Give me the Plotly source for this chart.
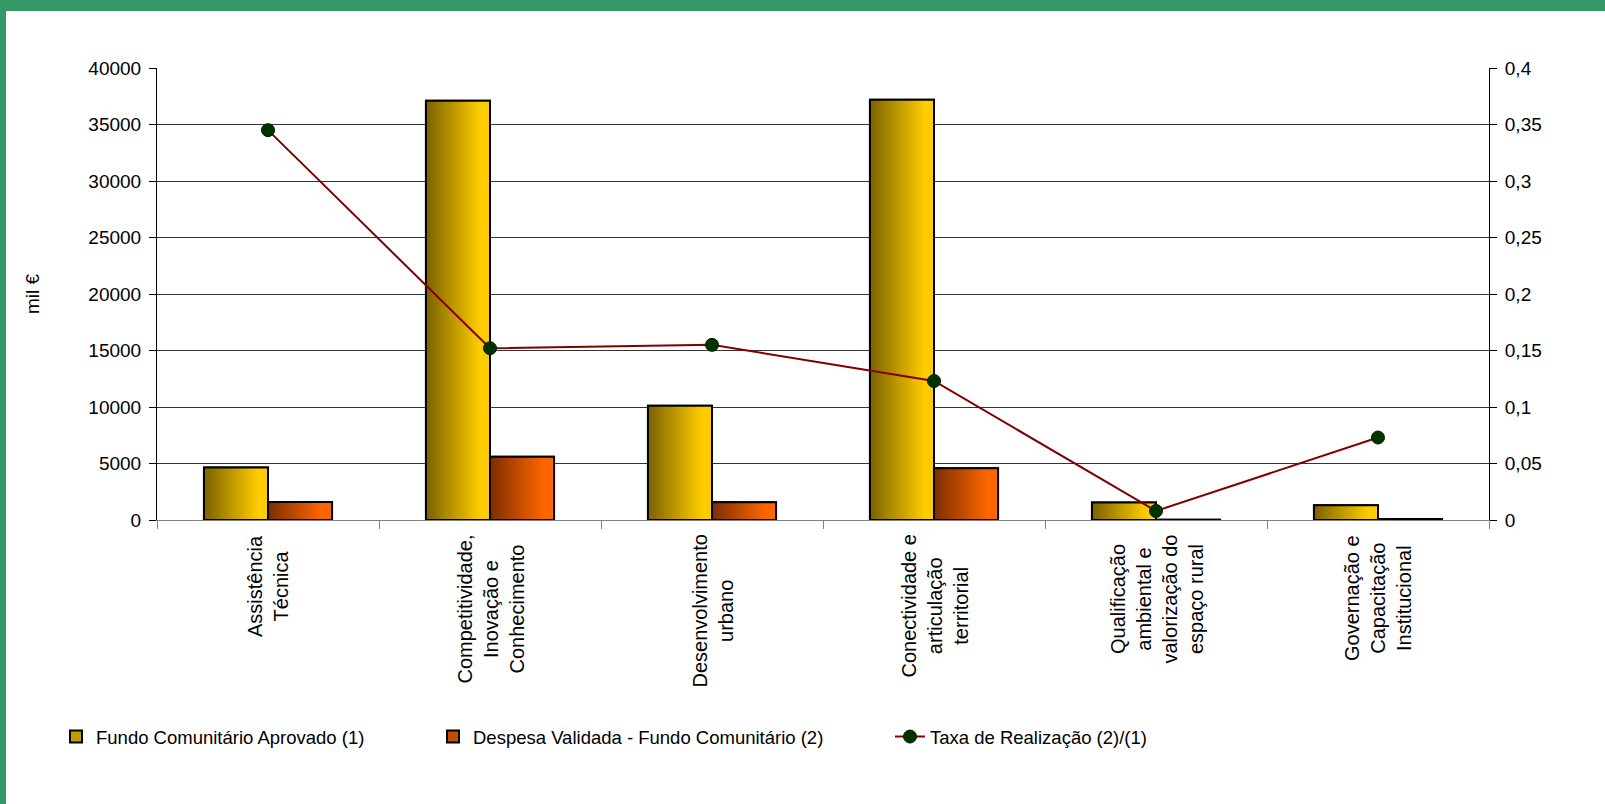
import plotly.graph_objects as go

# ---------------- data ----------------
categories = [
    "Assistência<br>Técnica",
    "Competitividade,<br>Inovação e<br>Conhecimento",
    "Desenvolvimento<br>urbano",
    "Conectividade e<br>articulação<br>territorial",
    "Qualificação<br>ambiental e<br>valorização do<br>espaço rural",
    "Governação e<br>Capacitação<br>Institucional",
]
fundo_aprovado = [4650, 37100, 10100, 37200, 1550, 1300]
despesa_validada = [1600, 5600, 1570, 4580, 12, 95]
taxa_realizacao = [0.345, 0.152, 0.155, 0.123, 0.008, 0.073]

name_fundo = "Fundo Comunitário Aprovado (1)"
name_despesa = "Despesa Validada - Fundo Comunitário (2)"
name_taxa = "Taxa de Realização (2)/(1)"
y_title = "mil €"

# ---------------- style ----------------
FONT = "Liberation Sans, Arial, sans-serif"
W, H = 1605, 804
ML, MR, MT, MB = 157, 116, 68, 284
PW, PH = W - ML - MR, H - MT - MB
BAR_W = 0.2885
N_STEPS = 24

gold_dark, gold_light = (122, 98, 0), (255, 204, 0)
orng_dark, orng_light = (125, 46, 0), (255, 102, 0)


def grad(c0, c1, f, full_at=0.85):
    t = min(f / full_at, 1.0)
    r = [round(a + (b - a) * t) for a, b in zip(c0, c1)]
    return "rgb(%d,%d,%d)" % tuple(r)


fig = go.Figure()


def add_gradient_bars(values, name, offset, c0, c1, legend):
    # bottom layer: legend entry (mid colour + border)
    fig.add_trace(go.Bar(
        x=categories, y=values, name=name, offset=offset, width=BAR_W,
        marker=dict(color=grad(c0, c1, 0.45), line=dict(color="black", width=2)),
        legend=legend, showlegend=True, hoverinfo="skip",
    ))
    # gradient steps (left dark -> right light)
    for k in range(N_STEPS):
        frac_w = (N_STEPS - k) / N_STEPS
        f = (N_STEPS - k - 0.5) / N_STEPS
        fig.add_trace(go.Bar(
            x=categories, y=values, offset=offset, width=BAR_W * frac_w,
            marker=dict(color=grad(c0, c1, f), line=dict(width=0)),
            showlegend=False, hoverinfo="skip", legend=legend,
        ))
    # top outline
    fig.add_trace(go.Bar(
        x=categories, y=values, offset=offset, width=BAR_W,
        marker=dict(color="rgba(0,0,0,0)", line=dict(color="black", width=2)),
        showlegend=False, legend=legend,
        hovertemplate="%{y}<extra>" + name + "</extra>",
    ))


add_gradient_bars(fundo_aprovado, name_fundo, -BAR_W, gold_dark, gold_light, "legend")
add_gradient_bars(despesa_validada, name_despesa, 0.0, orng_dark, orng_light, "legend2")

fig.add_trace(go.Scatter(
    x=categories, y=taxa_realizacao, name=name_taxa, yaxis="y2",
    mode="lines+markers",
    line=dict(color="#800000", width=2),
    marker=dict(color="#003300", size=13, line=dict(color="#002000", width=1)),
    legend="legend3",
))

# category labels (rotated, centred lines)
annotations = []
for c in categories:
    annotations.append(dict(
        x=c, xref="x", y=0, yref="paper", yshift=-13,
        text=c, textangle=-90, showarrow=False,
        xanchor="center", yanchor="top", align="center",
        font=dict(family=FONT, size=20, color="black"),
    ))

# green frame (top + left)
top_y = (H - MB) / PH
bot_y = -(MB) / PH
left_x = -ML / PW
shapes = [
    dict(type="rect", xref="paper", yref="paper", x0=left_x, x1=left_x + 6 / PW,
         y0=bot_y, y1=top_y, fillcolor="#339966", line=dict(width=0), layer="above"),
    dict(type="rect", xref="paper", yref="paper", x0=left_x, x1=(W - ML) / PW,
         y0=top_y - 11 / PH, y1=top_y, fillcolor="#339966", line=dict(width=0), layer="above"),
]

leg_y = -(737 - (MT + PH)) / PH


def leg(x_px):
    return dict(x=(x_px - ML) / PW, xanchor="left", y=leg_y, yanchor="middle",
                orientation="h", bgcolor="rgba(0,0,0,0)", borderwidth=0,
                font=dict(family=FONT, size=18.5, color="black"))


fig.update_layout(
    width=W, height=H,
    margin=dict(l=ML, r=MR, t=MT, b=MB, autoexpand=False),
    paper_bgcolor="white", plot_bgcolor="white",
    barmode="overlay",
    separators=",.",
    font=dict(family=FONT, size=19, color="black"),
    xaxis=dict(
        type="category", range=[-0.5, len(categories) - 0.5],
        showticklabels=False, tickson="boundaries", ticks="outside",
        ticklen=8, tickcolor="#808080", tickwidth=1,
        showline=True, linecolor="#808080", linewidth=1,
        showgrid=False, zeroline=False,
    ),
    yaxis=dict(
        range=[0, 40000], dtick=5000, tickformat="d",
        showline=True, linecolor="black", linewidth=1,
        ticks="outside", ticklen=7, tickcolor="black",
        showgrid=True, gridcolor="#333333", gridwidth=1,
        zeroline=False, ticklabelstandoff=4,
        tickfont=dict(family=FONT, size=19, color="black"),
        title=dict(text=y_title, standoff=43, font=dict(family=FONT, size=19, color="black")),
    ),
    yaxis2=dict(
        range=[0, 0.4], dtick=0.05, overlaying="y", side="right",
        showline=True, linecolor="black", linewidth=1,
        ticks="outside", ticklen=7, tickcolor="black",
        showgrid=False, zeroline=False, ticklabelstandoff=4,
        tickfont=dict(family=FONT, size=19, color="black"),
    ),
    legend=leg(56),
    legend2=leg(433),
    legend3=leg(890),
    annotations=annotations,
    shapes=shapes,
    showlegend=True,
)

fig.write_html(
    "out.html",
    config={"displayModeBar": False},
    post_script="document.body.style.margin='0';",
)
